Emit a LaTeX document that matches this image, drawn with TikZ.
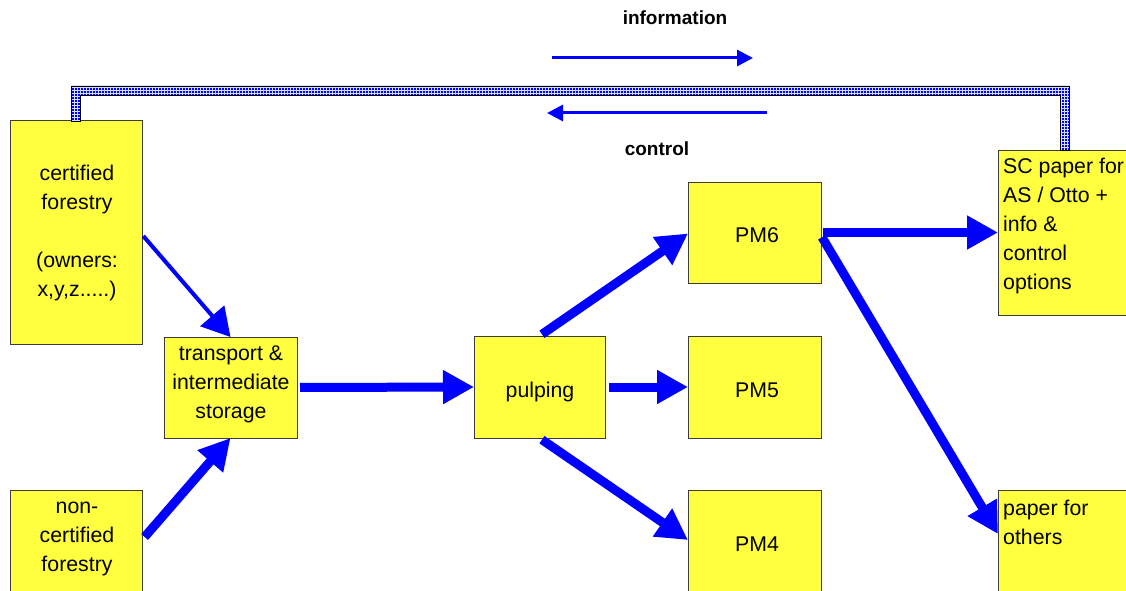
\documentclass[tikz,border=0pt]{standalone}
\usepackage{fontspec}
\setmainfont{Liberation Sans}
\usetikzlibrary{arrows.meta,calc,patterns}

\definecolor{boxyellow}{RGB}{255,255,64}
\definecolor{boxedge}{RGB}{60,60,60}
\definecolor{flowblue}{RGB}{0,0,255}
\definecolor{bandback}{RGB}{215,220,255}

% square blue dots on a 3pt grid for the information / control band
\pgfdeclarepatternformonly{banddots}{\pgfqpoint{-0.5pt}{-0.5pt}}{\pgfqpoint{3.5pt}{3.5pt}}{\pgfqpoint{3pt}{3pt}}{%
  \pgfpathrectangle{\pgfqpoint{0pt}{0pt}}{\pgfqpoint{1.6pt}{1.6pt}}\pgfusepath{fill}}

\newcommand\boxfont{\fontsize{21.3}{29}\selectfont}
\newcommand\boxlines[2]{\begin{tabular}[t]{@{}#1@{}}#2\end{tabular}}

\begin{document}
\begin{tikzpicture}[x=1pt,y=-1pt,
  box/.style={draw=boxedge, line width=1pt, fill=boxyellow, anchor=north west,
              inner sep=0pt, outer sep=0pt},
  txt/.style={inner sep=0pt, anchor=base, font=\boxfont},
  ltxt/.style={inner sep=0pt, anchor=base west, font=\boxfont},
  legend/.style={inner sep=0pt, anchor=base, font=\bfseries\fontsize{19}{22}\selectfont},
  flow/.style={draw=flowblue, line width=9pt, -{Triangle[length=31pt,width=32pt]}},
  thinflow/.style={draw=flowblue, line width=4pt, -{Triangle[length=28pt,width=31pt]}},
  signal/.style={draw=flowblue, line width=3pt, -{Triangle[length=16pt,width=16pt]}},
  channel/.style={draw=black, line width=0.9pt, pattern=banddots, pattern color=flowblue}
]
\useasboundingbox (0,0) rectangle (1126,591);

% boxes
\node[box, minimum width=132pt, minimum height=223pt] (cert) at (10,121) {};
\node[box, minimum width=133pt, minimum height=101pt] (trans) at (164,337) {};
\node[box, minimum width=132pt, minimum height=130pt] (noncert) at (10,490) {};
\node[box, minimum width=131pt, minimum height=102pt] (pulp) at (474,336) {};
\node[box, minimum width=133pt, minimum height=101pt] (pm6) at (688,182) {};
\node[box, minimum width=133pt, minimum height=102pt] (pm5) at (688,336) {};
\node[box, minimum width=133pt, minimum height=130pt] (pm4) at (688,490) {};
\node[box, minimum width=133pt, minimum height=165pt] (sc) at (998,150) {};
\node[box, minimum width=133pt, minimum height=130pt] (others) at (998,490) {};

% information / control channel between forestry and the SC paper customer
\path[fill=bandback] ($(cert.north)+(-4.5,0)$) |- ($(sc.north)+(4.5,-64)$) -- ($(sc.north)+(4.5,0)$)
  -- ($(sc.north)+(-4.5,0)$) |- ($(cert.north)+(4.5,-26)$) -- ($(cert.north)+(4.5,0)$) -- cycle;
\path[channel] ($(cert.north)+(-4.5,0)$) |- ($(sc.north)+(4.5,-64)$) -- ($(sc.north)+(4.5,0)$)
  -- ($(sc.north)+(-4.5,0)$) |- ($(cert.north)+(4.5,-26)$) -- ($(cert.north)+(4.5,0)$) -- cycle;

% box texts
\node[txt] (certtxt) at (77,180) {\boxlines{c}{certified\\forestry\\ \\(owners:\\x,y,z.....)}};
\node[txt] (transtxt) at (231,360) {\boxlines{c}{transport \&\\intermediate\\storage}};
\node[txt] (noncerttxt) at (77,513) {\boxlines{c}{non-\\certified\\forestry}};
\node[txt] (pulptxt) at (540,397) {pulping};
\node[txt] (pm6txt) at (757,242) {PM6};
\node[txt] (pm5txt) at (757,397) {PM5};
\node[txt] (pm4txt) at (757,551) {PM4};
\node[ltxt] (sctxt) at (1003,173) {\boxlines{l}{SC paper for\\AS / Otto +\\info \&\\control\\options}};
\node[ltxt] (otherstxt) at (1003,515) {\boxlines{l}{paper for\\others}};

% legend
\node[legend] (info) at (675,25) {information};
\node[legend] (ctrl) at (657,155) {control};
\coordinate (infoA) at (552,58);
\coordinate (infoB) at (753,58);
\coordinate (ctrlA) at (767,113);
\coordinate (ctrlB) at (547,113);
\draw[signal] (infoA) -- (infoB);
\draw[signal] (ctrlA) -- (ctrlB);

% material flow
\draw[thinflow, shorten <=2pt] ($(cert.east)+(0,2)$) -- (trans.north);
\draw[flow, shorten <=4pt] ($(noncert.north east)+(0,50)$) -- (trans.south);
\draw[flow, shorten <=3pt] (trans.east) -- (pulp.west);
\draw[flow, shorten <=3pt] (pulp.north) -- ($(pm6.west)+(0,1)$);
\draw[flow, shorten <=4pt] (pulp.east) -- (pm5.west);
\draw[flow, shorten <=3pt] (pulp.south) -- ($(pm4.north west)+(0,50)$);
\draw[flow, shorten <=2pt] (pm6.east) -- (sc.west);
\draw[flow, shorten <=2pt] ($(pm6.east)+(0,3)$) -- ($(others.north west)+(0,44)$);
\end{tikzpicture}
\end{document}
